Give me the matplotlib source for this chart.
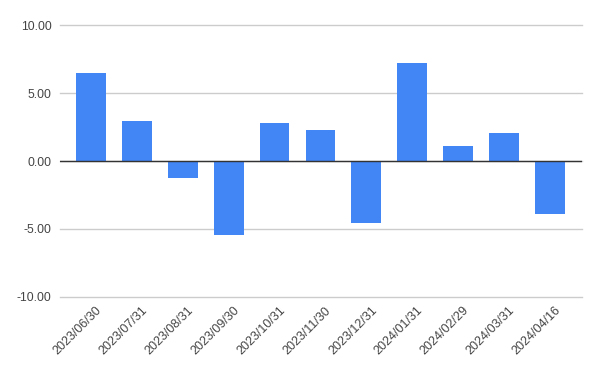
import matplotlib.pyplot as plt
import matplotlib.transforms as mtransforms
import numpy as np

# month-end dates and values
dates = ['2023/06/30', '2023/07/31', '2023/08/31', '2023/09/30', '2023/10/31',
         '2023/11/30', '2023/12/31', '2024/01/31', '2024/02/29', '2024/03/31',
         '2024/04/16']
values = [6.45, 2.94, -1.27, -5.47, 2.79, 2.28, -4.58, 7.18, 1.10, 2.06, -3.87]
yticks = [-10, -5, 0, 5, 10]

plt.rcParams['font.family'] = ['Liberation Sans', 'DejaVu Sans']

fig = plt.figure(figsize=(6, 3.71), dpi=100)
ax = fig.add_axes([0.1, 0.1995, 0.87, 0.733])

pos = np.arange(len(dates))
ax.bar(pos, values, 0.65, color='#4285f4', zorder=3)

ax.set_ylim(-10, 10)
ax.set_xlim(-0.675, 10.7)
ax.set_yticks(yticks)
ax.set_yticklabels(['%.2f' % t for t in yticks])
ax.set_xticks(pos)
ax.set_xticklabels(dates, rotation=45, ha='right', va='top', rotation_mode='anchor')

ax.grid(axis='y', color='#cccccc', linewidth=1, zorder=0)
for gl in ax.get_ygridlines():
    gl.set_clip_on(False)
ax.axhline(0, color='#333333', linewidth=1, zorder=4)
for s in ax.spines.values():
    s.set_visible(False)
ax.tick_params(axis='both', length=0, colors='#444444')
ax.tick_params(axis='y', pad=6, labelsize=8.7)
ax.tick_params(axis='x', pad=0, labelsize=9)

# nudge the rotated labels like the original (after tick_params, which resets them)
shift = mtransforms.ScaledTranslation(0.046, -0.076, fig.dpi_scale_trans)
for lab in ax.get_xticklabels():
    lab.set_transform(lab.get_transform() + shift)

fig.savefig('out.png', dpi=100)
